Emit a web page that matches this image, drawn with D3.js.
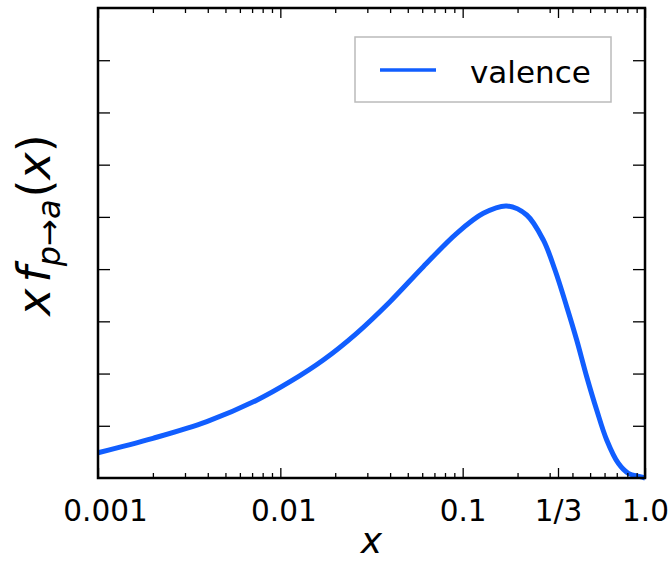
<!DOCTYPE html>
<html>
<head>
<meta charset="utf-8">
<script src="https://cdn.jsdelivr.net/npm/d3@7"></script>
<style>
  html, body { margin: 0; padding: 0; background: #fff; }
  svg { display: block; }
  text { font-family: "DejaVu Sans", sans-serif; }
</style>
</head>
<body>
<svg id="chart" width="668" height="562"></svg>
<script>
// ---- data ----
const xValues = [0.001, 0.002, 0.00395, 0.00742, 0.0113, 0.0172, 0.0262, 0.03995, 0.0608, 0.0928, 0.1298, 0.1744, 0.2245, 0.2768, 0.3209, 0.3721, 0.4221, 0.479, 0.5434, 0.6166, 0.714, 0.81, 0.939, 1.0];
const valence = [0.0484, 0.076, 0.108, 0.149, 0.1844, 0.226, 0.2771, 0.3376, 0.4046, 0.4686, 0.5069, 0.521, 0.5036, 0.4558, 0.3983, 0.3281, 0.2643, 0.194, 0.1302, 0.0728, 0.0281, 0.009, 0.0025, 0.0];
const xMajorTicks = [0.001, 0.01, 0.1, 1/3, 1.0];
const xTickLabels = ["0.001", "0.01", "0.1", "1/3", "1.0"];
const xMinorTicks = [0.002,0.003,0.004,0.005,0.006,0.007,0.008,0.009,
                     0.02,0.03,0.04,0.05,0.06,0.07,0.08,0.09,
                     0.2,0.3,0.4,0.5,0.6,0.7,0.8,0.9];
const yTicks = [0.1,0.2,0.3,0.4,0.5,0.6,0.7,0.8];
const seriesName = "valence";

// ---- layout ----
const L = 98, R = 645, T = 8, B = 478;
const color = "#115eff";

const svg = d3.select("#chart");
const x = d3.scaleLog().domain([0.001, 1.0]).range([L, R]);
const y = d3.scaleLinear().domain([0, 0.9]).range([B, T]);

// curve
const line = d3.line()
  .x((d, i) => x(xValues[i]))
  .y(d => y(d))
  .curve(d3.curveCatmullRom.alpha(0.5));

svg.append("path")
  .datum(valence)
  .attr("d", line)
  .attr("fill", "none")
  .attr("stroke", color)
  .attr("stroke-width", 5)
  .attr("stroke-linejoin", "round");

// ticks: bottom & top (inward)
const gBottomMajor = svg.append("g").attr("transform", `translate(0,${B})`)
  .call(d3.axisBottom(x).tickValues(xMajorTicks).tickSize(-10).tickFormat((d, i) => xTickLabels[i]).tickPadding(22));
const gBottomMinor = svg.append("g").attr("transform", `translate(0,${B})`)
  .call(d3.axisBottom(x).tickValues(xMinorTicks).tickSize(-5).tickFormat(""));
const gTopMajor = svg.append("g").attr("transform", `translate(0,${T})`)
  .call(d3.axisTop(x).tickValues(xMajorTicks).tickSize(-10).tickFormat(""));
const gTopMinor = svg.append("g").attr("transform", `translate(0,${T})`)
  .call(d3.axisTop(x).tickValues(xMinorTicks).tickSize(-5).tickFormat(""));
const gLeft = svg.append("g").attr("transform", `translate(${L},0)`)
  .call(d3.axisLeft(y).tickValues(yTicks).tickSize(-12).tickFormat(""));
const gRight = svg.append("g").attr("transform", `translate(${R},0)`)
  .call(d3.axisRight(y).tickValues(yTicks).tickSize(-12).tickFormat(""));

[gBottomMajor, gBottomMinor, gTopMajor, gTopMinor, gLeft, gRight].forEach(g => {
  g.select(".domain").remove();
  g.selectAll(".tick line").attr("stroke", "#000").attr("stroke-width", 1.3);
});
gBottomMajor.selectAll(".tick text")
  .attr("font-size", 29.5)
  .attr("fill", "#000")
  .attr("font-family", "DejaVu Sans")
  .attr("dx", (d, i) => i === 0 ? 7 : (i === 1 ? 3 : 0));

// frame
svg.append("rect")
  .attr("x", L).attr("y", T).attr("width", R - L).attr("height", B - T)
  .attr("fill", "none").attr("stroke", "#000").attr("stroke-width", 2.5);

// x label
svg.append("text")
  .attr("x", (L + R) / 2).attr("y", 553)
  .attr("text-anchor", "middle")
  .attr("font-size", 36).attr("font-style", "italic")
  .text("x");

// y label (mathtext-like)
const yl = svg.append("text")
  .attr("transform", `translate(50,${(T + B) / 2 - 18}) rotate(-90)`)
  .attr("text-anchor", "middle")
  .attr("font-size", 46);
yl.append("tspan").attr("font-style", "italic").text("x");
yl.append("tspan").attr("font-style", "italic").attr("dx", 6).text("f");
yl.append("tspan").attr("font-style", "italic").attr("font-size", 32).attr("dy", 10).text("p→a");
yl.append("tspan").attr("dy", -10).attr("dx", 2).text("(");
yl.append("tspan").attr("font-style", "italic").text("x");
yl.append("tspan").text(")");

// legend
const lg = svg.append("g");
lg.append("rect")
  .attr("x", 355).attr("y", 37).attr("width", 256).attr("height", 65)
  .attr("fill", "#fff").attr("stroke", "#bbb").attr("stroke-width", 1.5);
lg.append("line")
  .attr("x1", 380).attr("x2", 436).attr("y1", 70).attr("y2", 70)
  .attr("stroke", color).attr("stroke-width", 3.5);
lg.append("text")
  .attr("x", 470).attr("y", 83)
  .attr("font-size", 31)
  .text(seriesName);
</script>
</body>
</html>
